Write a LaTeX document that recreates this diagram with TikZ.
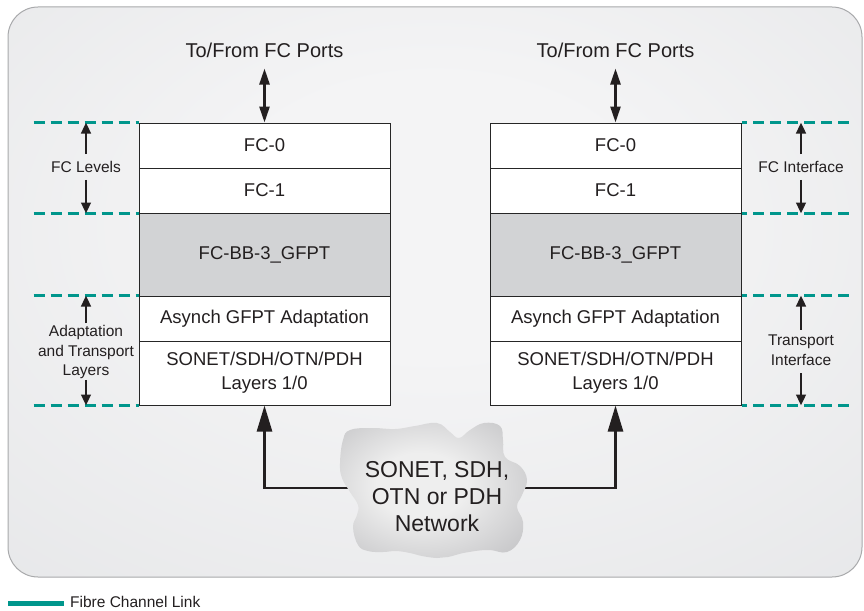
\documentclass[tikz,border=0pt]{standalone}
\usepackage{fontspec}
\setmainfont{Liberation Sans}
\usetikzlibrary{arrows.meta,calc}
\definecolor{teal1}{RGB}{0,150,140}
\definecolor{txt}{RGB}{35,31,32}
\definecolor{bgin}{RGB}{244,244,245}
\definecolor{bgmid}{RGB}{226,227,229}
\definecolor{bgout}{RGB}{208,209,211}
\definecolor{bgline}{RGB}{168,169,171}
\definecolor{bbgray}{RGB}{210,211,213}
\definecolor{cloudin}{RGB}{238,238,238}
\definecolor{cloudmid}{RGB}{198,198,200}
\definecolor{cloudout}{RGB}{150,150,153}
\pgfdeclareradialshading{bgshade}{\pgfpoint{0bp}{8bp}}{color(0bp)=(bgin); color(12bp)=(bgin); color(50bp)=(bgmid); color(72bp)=(bgout)}
\pgfdeclareradialshading{cloudshade}{\pgfpoint{-4bp}{2bp}}{color(0bp)=(cloudin); color(12bp)=(cloudin); color(34bp)=(cloudmid); color(50bp)=(cloudout); color(72bp)=(cloudout)}
\begin{document}
\begin{tikzpicture}[x=1pt,y=-1pt,
  layer/.style={draw=black!85,line width=1pt,fill=white,minimum width=251pt,
    inner sep=0pt,text=txt,font=\fontsize{18.5}{24}\selectfont,align=center},
  bblayer/.style={layer,fill=bbgray},
  lbl/.style={text=txt,font=\fontsize{15.5}{19.5}\selectfont,align=center,inner sep=0pt},
  toplbl/.style={text=txt,font=\fontsize{20}{24}\selectfont,inner sep=0pt},
  dashline/.style={draw=teal1,line width=3.3pt,dash pattern=on 11pt off 6pt},
  smallarr/.style={draw=txt,line width=2.8pt,-{Triangle[length=11pt,width=9.5pt]}},
  portarr/.style={draw=txt,line width=2.5pt,{Triangle[length=16pt,width=10pt]}-{Triangle[length=16pt,width=10pt]}},
  netarr/.style={draw=txt,line width=2.6pt,-{Triangle[length=26pt,width=15pt]}},
  legendline/.style={draw=teal1,line width=5pt}
]
\useasboundingbox (0,0) rectangle (864,610);
\shadedraw[rounded corners=30pt,shading=bgshade,draw=bgline,line width=1pt]
  (8,7) rectangle (862,577);

% left stack
\node[layer,minimum height=45pt] (LFC0) at (264.5,145.5) {FC-0};
\node[layer,minimum height=45pt] (LFC1) at (264.5,190.5) {FC-1};
\node[bblayer,minimum height=83pt] (LBB) at (264.5,254.5) {FC-BB-3\_GFPT};
\node[layer,minimum height=45pt] (LAS) at (264.5,318.5) {Asynch GFPT Adaptation};
\node[layer,minimum height=64pt] (LSON) at (264.5,373) {SONET/SDH/OTN/PDH\\Layers 1/0};

% right stack
\node[layer,minimum height=45pt] (RFC0) at (615.5,145.5) {FC-0};
\node[layer,minimum height=45pt] (RFC1) at (615.5,190.5) {FC-1};
\node[bblayer,minimum height=83pt] (RBB) at (615.5,254.5) {FC-BB-3\_GFPT};
\node[layer,minimum height=45pt] (RAS) at (615.5,318.5) {Asynch GFPT Adaptation};
\node[layer,minimum height=64pt] (RSON) at (615.5,373) {SONET/SDH/OTN/PDH\\Layers 1/0};

% top labels
\node[toplbl] (topL) at (264.5,50) {To/From FC Ports};
\node[toplbl] (topR) at (615.5,50) {To/From FC Ports};
\draw[portarr] ([yshift=-11pt]topL.south) -- (LFC0.north);
\draw[portarr] ([yshift=-11pt]topR.south) -- (RFC0.north);

% dashed lines left
\draw[dashline] ([xshift=-105pt]LFC0.north west) -- (LFC0.north west);
\draw[dashline] ([xshift=-105pt]LFC1.south west) -- (LFC1.south west);
\draw[dashline] ([xshift=-105pt]LAS.north west) -- (LAS.north west);
\draw[dashline] ([xshift=-105pt]LSON.south west) -- (LSON.south west);
% dashed lines right
\draw[dashline] ([xshift=107pt]RFC0.north east) -- (RFC0.north east);
\draw[dashline] ([xshift=107pt]RFC1.south east) -- (RFC1.south east);
\draw[dashline] ([xshift=107pt]RAS.north east) -- (RAS.north east);
\draw[dashline] ([xshift=107pt]RSON.south east) -- (RSON.south east);

% left labels
\node[lbl] (lFC) at (86,167) {FC Levels};
\draw[smallarr,shorten <=7pt] (lFC.north) -- (lFC.north |- LFC0.north);
\draw[smallarr,shorten <=7pt] (lFC.south) -- (lFC.south |- LFC1.south);
\node[lbl] (lAT) at (86,352) {Adaptation\\and Transport\\Layers};
\draw[smallarr,shorten <=2pt] (lAT.north) -- (lAT.north |- LAS.north);
\draw[smallarr,shorten <=1pt] (lAT.south) -- (lAT.south |- LSON.south);

% right labels
\node[lbl] (rFC) at (801,167) {FC Interface};
\draw[smallarr,shorten <=7pt] (rFC.north) -- (rFC.north |- RFC0.north);
\draw[smallarr,shorten <=7pt] (rFC.south) -- (rFC.south |- RFC1.south);
\node[lbl] (rTI) at (801,350) {Transport\\Interface};
\draw[smallarr,shorten <=5pt] (rTI.north) -- (rTI.north |- RAS.north);
\draw[smallarr,shorten <=8pt] (rTI.south) -- (rTI.south |- RSON.south);

% network cloud
\coordinate (cloudL) at (356,488);
\coordinate (cloudR) at (520,488);
\draw[netarr] (cloudL) -| (LSON.south);
\draw[netarr] (cloudR) -| (RSON.south);
\shade[shading=cloudshade]
  plot[smooth cycle,tension=0.7] coordinates {
   (343,440) (350,430) (372,428) (395,429) (415,426) (437,423) (450,432) (459,438)
   (470,430) (484,423) (500,426) (503,440) (505,457) (520,466) (527,480)
   (522,495) (517,507) (523,522) (520,540) (507,552) (490,550) (475,551) (463,553)
   (448,557) (437,558) (422,556) (410,553) (396,551) (383,552) (368,551) (358,545)
   (353,527) (357,515) (358,505) (350,492) (342,478) (340,463)};
\node[text=txt,font=\fontsize{23}{27}\selectfont,align=center,inner sep=0pt] (net) at (437,497)
  {SONET, SDH,\\OTN or PDH\\Network};

% legend
\coordinate (legA) at (8,603);
\coordinate (legB) at (64,603);
\draw[legendline] (legA) -- (legB);
\node[lbl,anchor=west] (legT) at (70,602) {Fibre Channel Link};
\end{tikzpicture}
\end{document}
